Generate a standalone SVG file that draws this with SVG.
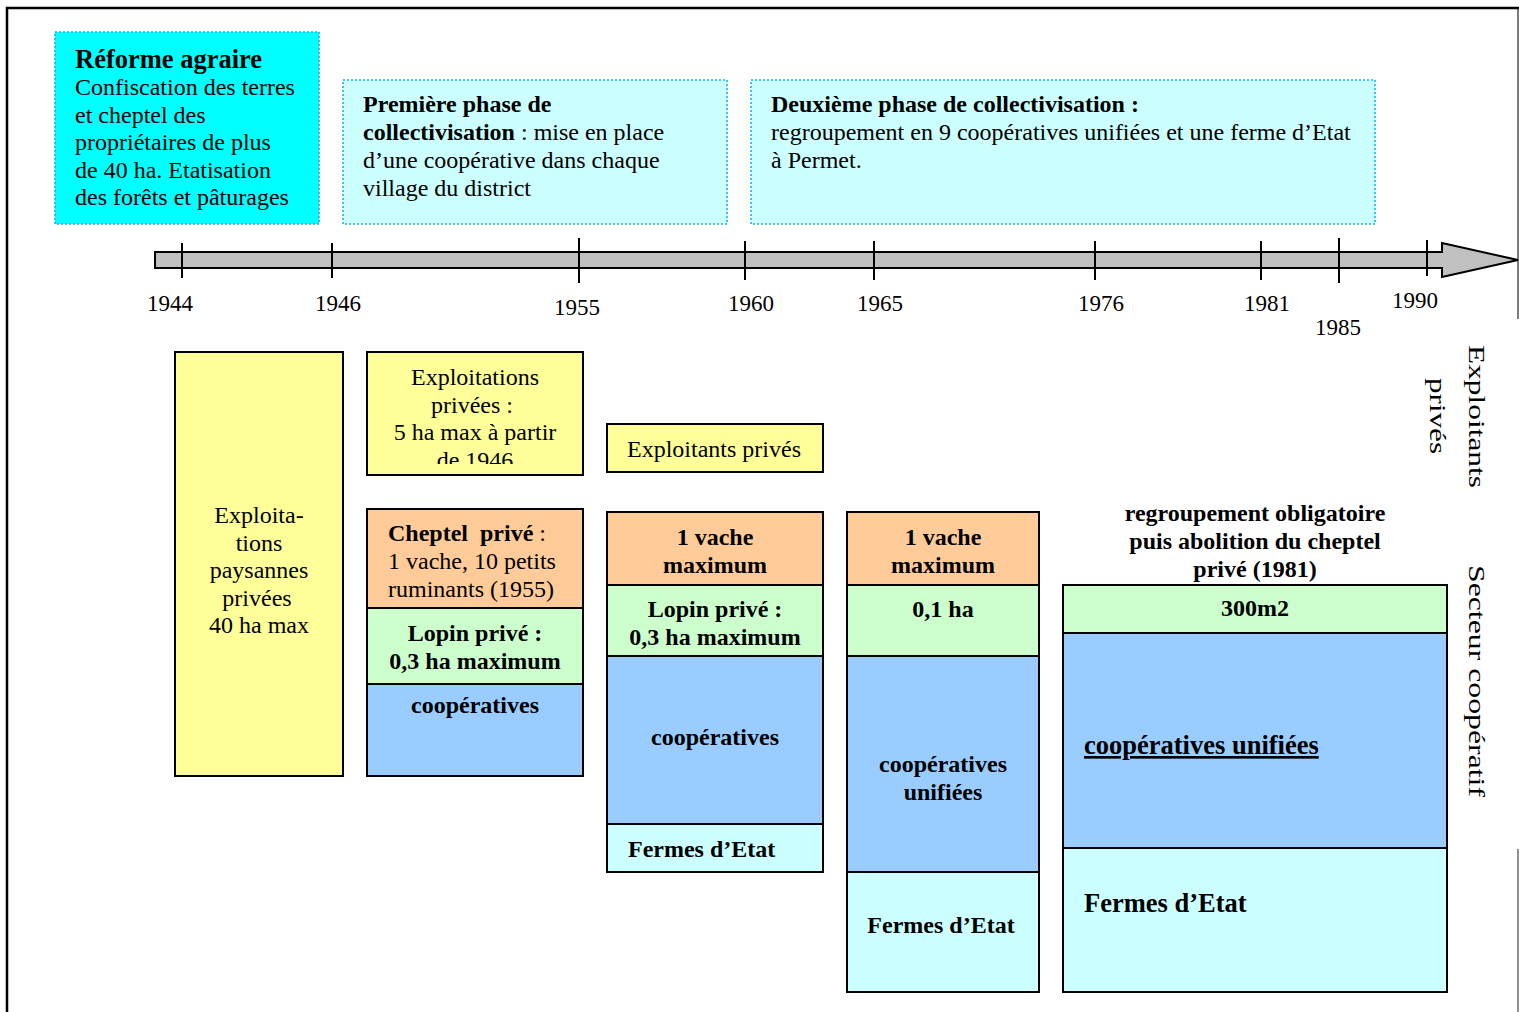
<svg xmlns="http://www.w3.org/2000/svg" width="1519" height="1012" viewBox="0 0 1519 1012">
<style>
text{font-family:"Liberation Serif","Times New Roman",serif;font-size:24px;fill:#000}
.b{font-weight:bold}
.c{text-anchor:middle}
.yr{font-size:23px}
.top{stroke:#1AB2F0;stroke-width:1.6;stroke-dasharray:2 2}
.box{stroke:#000;stroke-width:2}
.y{fill:#FFFF99}.o{fill:#FFCC99}.g{fill:#CCFFCC}.bl{fill:#99CCFF}.lc{fill:#CCFFFF}
.tick{stroke:#000;stroke-width:2}
</style>
<defs>
<clipPath id="clip2"><rect x="367" y="352" width="216" height="112"/></clipPath>
</defs>
<rect width="1519" height="1012" fill="#fff"/>
<g id="frame" fill="none">
<path d="M7,1012 V8 H1519" stroke="#000" stroke-width="2.5"/>
<line x1="1518" y1="8" x2="1518" y2="319" stroke="#222" stroke-width="1.2"/>
<line x1="1518" y1="849" x2="1518" y2="1012" stroke="#444" stroke-width="1.2"/>
</g>
<g id="reforme">
<rect class="top" x="55" y="32" width="264" height="192" fill="#00FFFF"/>
<text x="75" y="68" class="b" style="font-size:26.5px">Réforme agraire</text>
<text x="75" y="95">Confiscation des terres</text>
<text x="75" y="122.5">et cheptel des</text>
<text x="75" y="150">propriétaires de plus</text>
<text x="75" y="177.5">de 40 ha. Etatisation</text>
<text x="75" y="205">des forêts et pâturages</text>
</g>
<g id="phase1">
<rect class="top lc" x="343" y="80" width="384" height="144"/>
<text x="363" y="112" class="b">Première phase de</text>
<text x="363" y="140"><tspan class="b">collectivisation</tspan> : mise en place</text>
<text x="363" y="168">d’une coopérative dans chaque</text>
<text x="363" y="196">village du district</text>
</g>
<g id="phase2">
<rect class="top lc" x="751" y="80" width="624" height="144"/>
<text x="771" y="112" class="b">Deuxième phase de collectivisation :</text>
<text x="771" y="140">regroupement en 9 coopératives unifiées et une ferme d’Etat</text>
<text x="771" y="168">à Permet.</text>
</g>
<g id="timeline">
<path d="M155,252 H1442 V243 L1518,260 L1442,277 V268 H155 Z" fill="#C0C0C0" stroke="#000" stroke-width="2"/>
<line class="tick" x1="182" y1="243" x2="182" y2="278"/>
<line class="tick" x1="332" y1="243" x2="332" y2="278"/>
<line class="tick" x1="579" y1="238" x2="579" y2="283"/>
<line class="tick" x1="745" y1="241" x2="745" y2="280"/>
<line class="tick" x1="874" y1="241" x2="874" y2="280"/>
<line class="tick" x1="1095" y1="241" x2="1095" y2="280"/>
<line class="tick" x1="1261" y1="241" x2="1261" y2="280"/>
<line class="tick" x1="1339" y1="238" x2="1339" y2="283"/>
<line class="tick" x1="1427" y1="240" x2="1427" y2="276"/>
<text class="yr" x="147" y="311">1944</text>
<text class="yr" x="315" y="311">1946</text>
<text class="yr" x="554" y="315">1955</text>
<text class="yr" x="728" y="311">1960</text>
<text class="yr" x="857" y="311">1965</text>
<text class="yr" x="1078" y="311">1976</text>
<text class="yr" x="1244" y="311">1981</text>
<text class="yr" x="1392" y="308">1990</text>
<text class="yr" x="1315" y="335">1985</text>
</g>
<g id="col1">
<rect class="box y" x="175" y="352" width="168" height="424"/>
<text class="c" x="259" y="523">Exploita-</text>
<text class="c" x="259" y="550.5">tions</text>
<text class="c" x="259" y="578">paysannes</text>
<text class="c" x="257" y="605.5">privées</text>
<text class="c" x="259" y="633">40 ha max</text>
</g>
<g id="col2-prive">
<rect class="box y" x="367" y="352" width="216" height="123"/>
<g clip-path="url(#clip2)">
<text class="c" x="475" y="385">Exploitations</text>
<text class="c" x="472" y="412.5">privées :</text>
<text class="c" x="475" y="440">5 ha max à partir</text>
<text class="c" x="475" y="467.5">de 1946</text>
</g>
</g>
<g id="col2-cheptel">
<rect class="box o" x="367" y="509" width="216" height="99"/>
<text x="388" y="541"><tspan class="b">Cheptel&#160; privé</tspan> :</text>
<text x="388" y="569">1 vache, 10 petits</text>
<text x="388" y="597">ruminants (1955)</text>
</g>
<g id="col2-lopin">
<rect class="box g" x="367" y="608" width="216" height="76"/>
<text class="c b" x="475" y="641">Lopin privé :</text>
<text class="c b" x="475" y="668.5">0,3 ha maximum</text>
</g>
<g id="col2-coop">
<rect class="box bl" x="367" y="684" width="216" height="92"/>
<text class="c b" x="475" y="713">coopératives</text>
</g>
<g id="col3-prive">
<rect class="box y" x="607" y="424" width="216" height="48"/>
<text class="c" x="714" y="457">Exploitants privés</text>
</g>
<g id="col3-vache">
<rect class="box o" x="607" y="512" width="216" height="73"/>
<text class="c b" x="715" y="545">1 vache</text>
<text class="c b" x="715" y="572.5">maximum</text>
</g>
<g id="col3-lopin">
<rect class="box g" x="607" y="585" width="216" height="71"/>
<text class="c b" x="715" y="617">Lopin privé :</text>
<text class="c b" x="715" y="644.5">0,3 ha maximum</text>
</g>
<g id="col3-coop">
<rect class="box bl" x="607" y="656" width="216" height="168"/>
<text class="c b" x="715" y="745">coopératives</text>
</g>
<g id="col3-fermes">
<rect class="box lc" x="607" y="824" width="216" height="48"/>
<text class="b" x="628" y="857">Fermes d’Etat</text>
</g>
<g id="col4-vache">
<rect class="box o" x="847" y="512" width="192" height="73"/>
<text class="c b" x="943" y="545">1 vache</text>
<text class="c b" x="943" y="572.5">maximum</text>
</g>
<g id="col4-lopin">
<rect class="box g" x="847" y="585" width="192" height="71"/>
<text class="c b" x="943" y="617">0,1 ha</text>
</g>
<g id="col4-coop">
<rect class="box bl" x="847" y="656" width="192" height="216"/>
<text class="c b" x="943" y="772">coopératives</text>
<text class="c b" x="943" y="800">unifiées</text>
</g>
<g id="col4-fermes">
<rect class="box lc" x="847" y="872" width="192" height="120"/>
<text class="c b" x="941" y="933">Fermes d’Etat</text>
</g>
<g id="col5-header">
<text class="c b" x="1255" y="521">regroupement obligatoire</text>
<text class="c b" x="1255" y="549">puis abolition du cheptel</text>
<text class="c b" x="1255" y="577">privé (1981)</text>
</g>
<g id="col5-lopin">
<rect class="box g" x="1063" y="585" width="384" height="48"/>
<text class="c b" x="1255" y="616">300m2</text>
</g>
<g id="col5-coop">
<rect class="box bl" x="1063" y="633" width="384" height="215"/>
<text class="b" x="1084" y="754" style="font-size:26.5px;text-decoration:underline">coopératives unifiées</text>
</g>
<g id="col5-fermes">
<rect class="box lc" x="1063" y="848" width="384" height="144"/>
<text class="b" x="1084" y="912" style="font-size:26.5px">Fermes d’Etat</text>
</g>
<g id="side-labels">
<text transform="translate(1469,345) rotate(90)" textLength="143" lengthAdjust="spacingAndGlyphs">Exploitants</text>
<text transform="translate(1430,378) rotate(90)" textLength="76" lengthAdjust="spacingAndGlyphs">privés</text>
<text transform="translate(1469,565) rotate(90)" textLength="232" lengthAdjust="spacingAndGlyphs">Secteur coopératif</text>
</g>
</svg>
